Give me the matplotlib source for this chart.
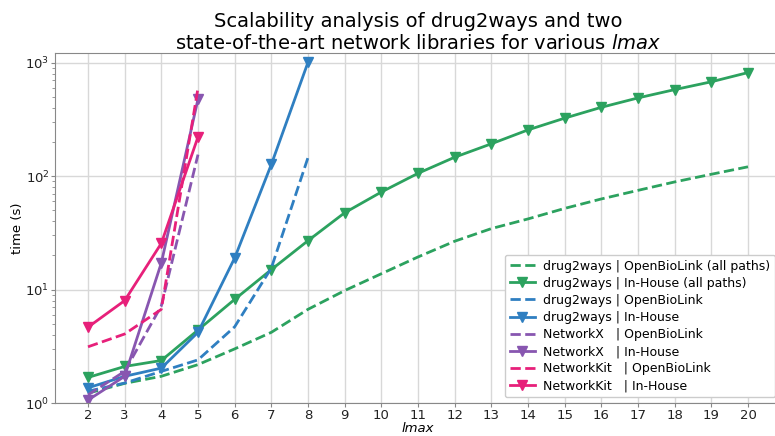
import matplotlib
matplotlib.use("Agg")
import matplotlib.pyplot as plt
import numpy as np

lmax_all = list(range(2, 21))
lmax_d2w = [2, 3, 4, 5, 6, 7, 8]
lmax_lib = [2, 3, 4, 5]

d2w_obl_all = [1.22, 1.49, 1.72, 2.18, 3.0, 4.2, 6.7, 9.8, 13.8, 19.4, 26.7, 34.5, 42, 52, 63, 75, 89, 104, 121]
d2w_ih_all = [1.68, 2.1, 2.37, 4.4, 8.2, 15, 27, 47.6, 72.5, 106, 147, 193, 256, 325, 405, 490, 580, 680, 820]
d2w_obl = [1.27, 1.5, 1.9, 2.4, 4.7, 15.5, 146]
d2w_ih = [1.36, 1.72, 2.03, 4.2, 19, 127, 1010]
nx_obl = [1.18, 1.9, 7.2, 155]
nx_ih = [1.06, 1.72, 17.2, 478]
nk_obl = [3.13, 4.06, 6.7, 600]
nk_ih = [4.66, 8.0, 25.6, 222]

labels = [
    "drug2ways | OpenBioLink (all paths)",
    "drug2ways | In-House (all paths)",
    "drug2ways | OpenBioLink",
    "drug2ways | In-House",
    "NetworkX   | OpenBioLink",
    "NetworkX   | In-House",
    "NetworkKit   | OpenBioLink",
    "NetworkKit   | In-House",
]

green = "#2ca25f"
blue = "#2f7fc1"
purple = "#8856b0"
pink = "#e7207a"

fig = plt.figure(figsize=(7.75, 4.36), dpi=100)
ax = fig.add_axes([55/775, 33/436, 726/775, 350/436])

lw = 2.0
ms = 7
ax.plot(lmax_all, d2w_obl_all, "--", color=green, lw=lw, label=labels[0])
ax.plot(lmax_all, d2w_ih_all, "-", color=green, lw=lw, marker="v", ms=ms, label=labels[1])
ax.plot(lmax_d2w, d2w_obl, "--", color=blue, lw=lw, label=labels[2])
ax.plot(lmax_d2w, d2w_ih, "-", color=blue, lw=lw, marker="v", ms=ms, label=labels[3])
ax.plot(lmax_lib, nx_obl, "--", color=purple, lw=lw, label=labels[4])
ax.plot(lmax_lib, nx_ih, "-", color=purple, lw=lw, marker="v", ms=ms, label=labels[5])
ax.plot(lmax_lib, nk_obl, "--", color=pink, lw=lw, label=labels[6])
ax.plot(lmax_lib, nk_ih, "-", color=pink, lw=lw, marker="v", ms=ms, label=labels[7])

ax.set_yscale("log")
ax.set_ylim(1, 1220)
ax.set_xlim(1.1, 20.9)
ax.set_xticks(lmax_all)
ax.grid(True, which="major", color="#d8d8d8", lw=1)
ax.set_axisbelow(True)
for s in ax.spines.values():
    s.set_color("#888888")
ax.tick_params(colors="#222222", labelsize=9.5, length=3, pad=1, color="#888888")
ax.tick_params(which="minor", length=2, color="#888888")

ax.set_xlabel("lmax", fontsize=9.5, style="italic", labelpad=0)
ax.set_ylabel("time (s)", fontsize=9.5, labelpad=1)
ax.set_title("Scalability analysis of drug2ways and two\nstate-of-the-art network libraries for various $lmax$",
             fontsize=14, pad=2)

leg = ax.legend(loc="lower right", bbox_to_anchor=(1.0, 0.0), borderaxespad=0.45, fontsize=9,
                handlelength=2, handletextpad=0.7, framealpha=1, edgecolor="#cccccc",
                borderpad=0.4, labelspacing=0.33)

fig.savefig("out.png", dpi=100)
